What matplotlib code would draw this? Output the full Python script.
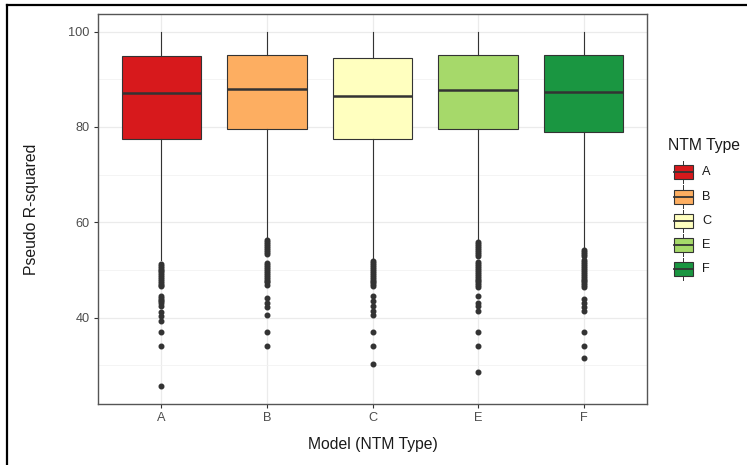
import matplotlib
matplotlib.use("Agg")
import matplotlib.pyplot as plt
from matplotlib.patches import Rectangle
from matplotlib.lines import Line2D

plt.rcParams['font.family'] = ['Liberation Sans', 'DejaVu Sans']

# data
categories = ["A", "B", "C", "E", "F"]
colors = ["#D7191C", "#FDAE61", "#FFFFBF", "#A6D96A", "#1A9641"]
q1 = [77.4, 79.5, 77.5, 79.5, 78.9]
med = [87.1, 87.9, 86.6, 87.7, 87.4]
q3 = [94.9, 95.1, 94.5, 95.0, 95.0]
whis_lo = [52.0, 56.6, 52.2, 56.2, 54.5]
whis_hi = [100, 100, 100, 100, 100]

out_A = [51.3, 50.9, 50.5, 50.1, 49.7, 49.3, 48.9, 48.5, 48.1, 47.7, 47.3, 46.9, 46.7,
         44.6, 44.2, 43.8, 43.4, 43.0, 42.5, 41.3, 40.3, 39.4, 37.0, 34.0, 25.6]
out_B = [56.2, 55.8, 55.4, 55.0, 54.6, 54.2, 53.8, 53.4,
         51.4, 51.0, 50.6, 50.2, 49.8, 49.4, 49.0, 48.6, 48.2, 47.8, 47.4, 46.9,
         44.2, 43.1, 42.2, 40.6, 37.0, 34.0]
out_C = [51.8, 51.4, 51.0, 50.6, 50.2, 49.8, 49.4, 49.0, 48.6, 48.2, 47.8, 47.4, 47.0, 46.6,
         44.5, 43.5, 42.4, 41.4, 40.5, 37.0, 34.0, 30.2]
out_E = [55.8, 55.4, 55.0, 54.6, 54.2, 53.8, 53.4, 53.0,
         51.6, 51.2, 50.8, 50.4, 50.0, 49.6, 49.2, 48.8, 48.4, 48.0, 47.6, 47.2, 46.8, 46.4,
         44.5, 43.1, 42.4, 41.4, 37.0, 34.0, 28.6]
out_F = [54.1, 53.7, 53.3, 53.0,
         52.0, 51.6, 51.2, 50.8, 50.4, 50.0, 49.6, 49.2, 48.8, 48.4, 48.0, 47.6, 47.2, 46.8, 46.4,
         44.0, 43.1, 42.2, 41.4, 37.0, 34.0, 31.6]
outliers = [out_A, out_B, out_C, out_E, out_F]

W, H = 747, 465
fig = plt.figure(figsize=(W / 100, H / 100), dpi=100)
ax = fig.add_axes([98 / W, (H - 404) / H, 549 / W, 390 / H])

stats = []
for i, c in enumerate(categories):
    stats.append(dict(label=c, med=med[i], q1=q1[i], q3=q3[i],
                      whislo=whis_lo[i], whishi=whis_hi[i], fliers=outliers[i]))

pos = list(range(1, len(categories) + 1))
bp = ax.bxp(stats, positions=pos, widths=0.75, patch_artist=True, showcaps=False,
            boxprops=dict(edgecolor="#333333", linewidth=0.8),
            medianprops=dict(color="#333333", linewidth=1.8),
            whiskerprops=dict(color="#333333", linewidth=0.8),
            flierprops=dict(marker="o", markerfacecolor="#333333",
                            markeredgecolor="#333333", markersize=3.3))
for patch, col in zip(bp["boxes"], colors):
    patch.set_facecolor(col)

ax.set_xlim(0.4, 5.6)
ax.set_ylim(21.9, 103.7)
ax.set_xticks(pos)
ax.set_xticklabels(categories)
ax.set_yticks([40, 60, 80, 100])
ax.set_yticks([30, 50, 70, 90], minor=True)
ax.set_axisbelow(True)
ax.grid(which="major", color="#EBEBEB", linewidth=0.9)
ax.grid(which="minor", axis="y", color="#F2F2F2", linewidth=0.6)
ax.tick_params(axis="both", which="major", length=3, width=0.8, color="#333333",
               labelcolor="#4D4D4D", labelsize=9.2, pad=3)
ax.tick_params(axis="y", which="minor", length=0)
for s in ax.spines.values():
    s.set_color("#555555")
    s.set_linewidth(1.0)

ax.set_xlabel("Model (NTM Type)", fontsize=11.3, color="#1A1A1A")
ax.set_ylabel("Pseudo R-squared", fontsize=11.3, color="#1A1A1A")
ax.xaxis.set_label_coords(0.5, -0.085)
ax.yaxis.set_label_coords(-0.108, 0.5)

# overlay in pixel coordinates for legend and outer frame
ov = fig.add_axes([0, 0, 1, 1])
ov.set_xlim(0, W)
ov.set_ylim(H, 0)
ov.axis("off")
ov.patch.set_alpha(0)

ov.text(668, 145, "NTM Type", fontsize=11.3, color="#1A1A1A", va="center", ha="left")
key_y = [172, 196.5, 221, 245, 269]
for cat, col, ky in zip(categories, colors, key_y):
    ov.add_line(Line2D([683, 683], [ky - 11, ky + 11], color="#333333", lw=0.7, zorder=1))
    ov.add_patch(Rectangle((673.5, ky - 7), 19, 14, facecolor=col,
                           edgecolor="#333333", lw=0.8, zorder=2))
    ov.add_line(Line2D([673.5, 692.5], [ky, ky], color="#333333", lw=1.3, zorder=3))
    ov.text(702, ky, cat, fontsize=9.2, color="#1A1A1A", va="center", ha="left")

ov.add_line(Line2D([7, 7], [5, H], color="black", lw=1.6))
ov.add_line(Line2D([7, W], [5, 5], color="black", lw=1.6))

fig.savefig("out.png", dpi=100)
